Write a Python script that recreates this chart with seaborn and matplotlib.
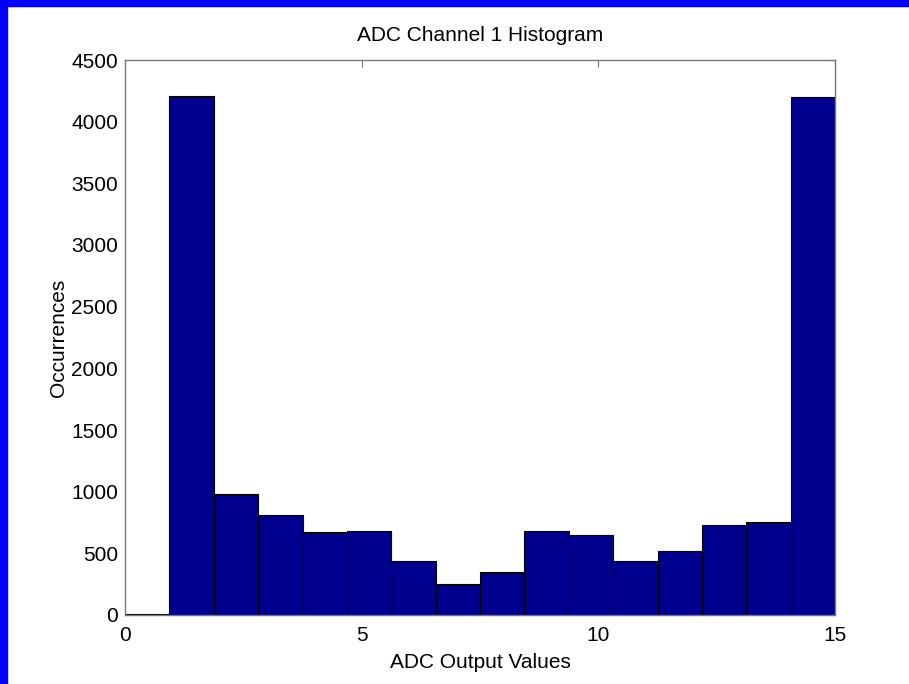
import numpy as np
import pandas as pd
import matplotlib
matplotlib.use("Agg")
import matplotlib.pyplot as plt
import seaborn as sns
from matplotlib.patches import Rectangle

# histogram counts (16 bins spanning 0..15)
bin_counts = [12, 4210, 985, 812, 674, 682, 434, 248, 348, 680, 645, 434, 520, 726, 758, 4200]
x_min, x_max = 0, 15
x_ticks = [0, 5, 10, 15]
y_ticks = list(range(0, 4501, 500))

n_bins = len(bin_counts)
edges = np.linspace(x_min, x_max, n_bins + 1)
centers = (edges[:-1] + edges[1:]) / 2
df = pd.DataFrame({"value": centers, "count": bin_counts})

sns.set_style("white")
plt.rcParams['font.family'] = ['Liberation Sans', 'DejaVu Sans']
plt.rcParams['text.color'] = 'black'
plt.rcParams['axes.labelcolor'] = 'black'
plt.rcParams['xtick.color'] = 'black'
plt.rcParams['ytick.color'] = 'black'

fig = plt.figure(figsize=(9.09, 6.84), dpi=100)
ax = fig.add_axes([125 / 909, 1 - 615 / 684, 710 / 909, 555 / 684])

sns.histplot(data=df, x="value", weights="count", bins=edges.tolist(), ax=ax,
             color="#00008F", edgecolor="black", linewidth=0.8, alpha=1.0)

ax.set_xlim(x_min, x_max)
ax.set_ylim(0, 4500)
ax.set_xticks(x_ticks)
ax.set_yticks(y_ticks)
ax.tick_params(direction="in", length=5, width=0.8, color="#777777",
               labelcolor="black", top=True, right=True, labelsize=15, pad=5)
ax.tick_params(axis="x", pad=8)
for s in ax.spines.values():
    s.set_visible(True)
    s.set_color("#777777")
    s.set_linewidth(1.0)

ax.set_title("ADC Channel 1 Histogram", fontsize=15, pad=14, color="black")
ax.set_xlabel("ADC Output Values", fontsize=15, labelpad=6)
ax.set_ylabel("Occurrences", fontsize=15, labelpad=2)

# blue frame on the top and left edge of the image
fig.patches.append(Rectangle((0, 0), 7 / 909, 1, transform=fig.transFigure,
                             color="#0000FF", zorder=10))
fig.patches.append(Rectangle((0, 1 - 6 / 684), 1, 6 / 684, transform=fig.transFigure,
                             color="#0000FF", zorder=10))

fig.savefig("out.png", dpi=100)
